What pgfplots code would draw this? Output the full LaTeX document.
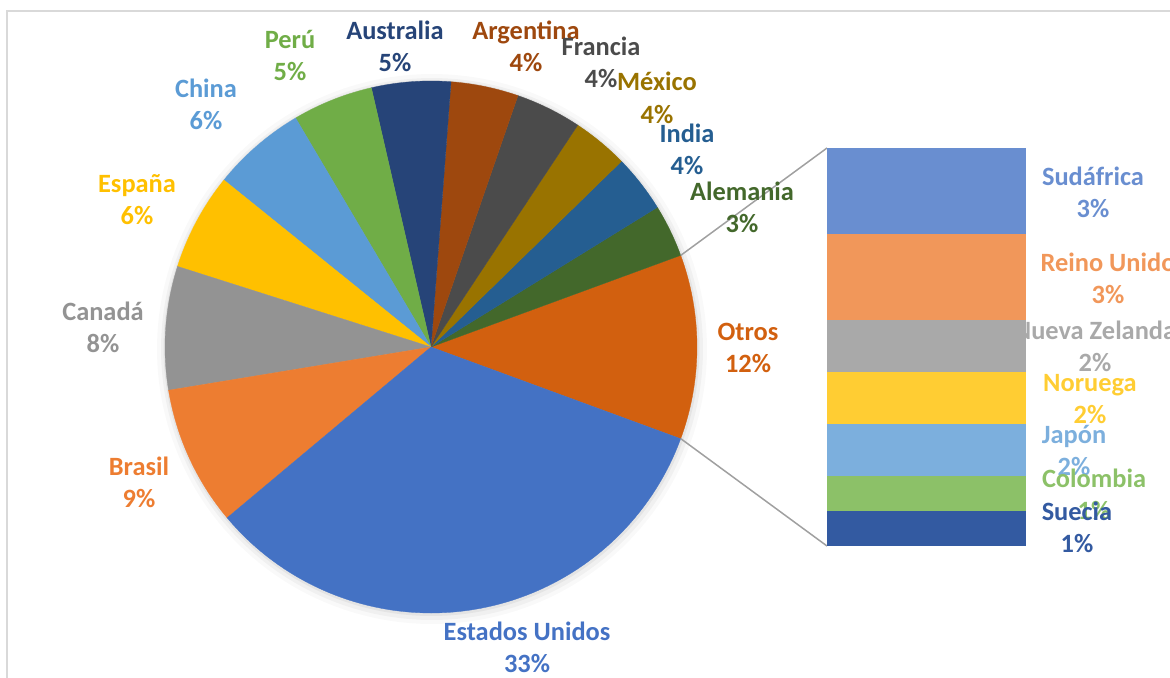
\documentclass[border=0pt]{standalone}
\usepackage{pgfplots}
\pgfplotsset{compat=1.18}
\usepackage{fontspec}
\setmainfont{Carlito}
\definecolor{cEU}{HTML}{4472C4}
\definecolor{cBra}{HTML}{ED7D31}
\definecolor{cCan}{HTML}{939393}
\definecolor{cEsp}{HTML}{FFC000}
\definecolor{cChi}{HTML}{5B9BD5}
\definecolor{cPer}{HTML}{70AD47}
\definecolor{cAus}{HTML}{264478}
\definecolor{cArg}{HTML}{9E480E}
\definecolor{cFra}{HTML}{4B4B4B}
\definecolor{cMex}{HTML}{997300}
\definecolor{cInd}{HTML}{255E91}
\definecolor{cAle}{HTML}{43682B}
\definecolor{cOtr}{HTML}{D2600F}
\definecolor{cSud}{HTML}{698ED0}
\definecolor{cRei}{HTML}{F1975A}
\definecolor{cNue}{HTML}{A9A9A9}
\definecolor{cNor}{HTML}{FFCD33}
\definecolor{cJap}{HTML}{7CAFDD}
\definecolor{cCol}{HTML}{8CC168}
\definecolor{cSue}{HTML}{335AA1}
\definecolor{cFrame}{HTML}{D9D9D9}
\definecolor{cLine}{HTML}{A0A0A0}

\newcommand\curang{-20.16}
\newcommand\slice[2]{%
  \pgfmathsetmacro\endang{\curang+#1*3.6}%
  \edef\temp{\noexpand\addplot[fill=#2,draw=#2,line width=0.3bp,domain=\curang:\endang,samples=80,variable=\noexpand\t]
    ({431+266*cos(\noexpand\t)},{347-266*sin(\noexpand\t)}) -- (axis cs:431,347) -- cycle;}%
  \temp
  \global\let\curang\endang}
\newcommand\labfont{\fontsize{26.4bp}{31bp}\selectfont\bfseries}
\newcommand\lab[5]{% x, baseline y, name, pct, color
  \node[anchor=base,text=#5,inner sep=0pt,font=\labfont] at (axis cs:#1,#2) {#3};
  \node[anchor=base,text=#5,inner sep=0pt,font=\labfont] at (axis cs:#1,#2+32) {#4};}

\begin{document}
\begin{tikzpicture}
\begin{axis}[name=pie, scale only axis, width=1170bp, height=677bp,
  xmin=0, xmax=1170, ymin=0, ymax=677, y dir=reverse, hide axis, clip=false]
% frame
\addplot[cFrame, line width=1.5bp] coordinates {(7,700) (7,11) (1200,11)};
% soft shadow round the pie
\addplot[draw=none, fill=black, fill opacity=0.025, domain=0:360, samples=180] ({432+275*cos(x)},{349-275*sin(x)});
\addplot[draw=none, fill=black, fill opacity=0.035, domain=0:360, samples=180] ({432+271*cos(x)},{349-271*sin(x)});
\addplot[draw=none, fill=black, fill opacity=0.05, domain=0:360, samples=180] ({431.5+268*cos(x)},{348-268*sin(x)});
% pie slices, counterclockwise from the lower edge of Otros
\slice{11.2}{cOtr}
\slice{3.2}{cAle}
\slice{3.5}{cInd}
\slice{3.4}{cMex}
\slice{4.0}{cFra}
\slice{4.1}{cArg}
\slice{4.8}{cAus}
\slice{4.9}{cPer}
\slice{5.7}{cChi}
\slice{5.9}{cEsp}
\slice{7.5}{cCan}
\slice{8.5}{cBra}
\slice{33.3}{cEU}
% connectors
\addplot[cLine, line width=1.5bp] coordinates {(680.7,255.4) (827,148)};
\addplot[cLine, line width=1.5bp] coordinates {(680.7,438.6) (827,546)};
% labels
\lab{527}{640}{Estados Unidos}{33\%}{cEU}
\lab{139}{475}{Brasil}{9\%}{cBra}
\lab{103}{320}{Canadá}{8\%}{cCan}
\lab{137}{192}{España}{6\%}{cEsp}
\lab{206}{97}{China}{6\%}{cChi}
\lab{290}{49}{Perú}{5\%}{cPer}
\lab{395}{40}{Australia}{5\%}{cAus}
\lab{526}{40}{Argentina}{4\%}{cArg}
\lab{601}{56}{Francia}{4\%}{cFra}
\lab{657}{91}{México}{4\%}{cMex}
\lab{687}{142}{India}{4\%}{cInd}
\lab{742}{200}{Alemania}{3\%}{cAle}
\lab{748}{340}{Otros}{12\%}{cOtr}
\lab{1093}{185}{Sudáfrica}{3\%}{cSud}
\lab{1108}{271}{Reino Unido}{3\%}{cRei}
\lab{1095}{339}{Nueva Zelanda}{2\%}{cNue}
\lab{1090}{391}{Noruega}{2\%}{cNor}
\lab{1074}{443}{Japón}{2\%}{cJap}
\lab{1094}{487}{Colombia}{1\%}{cCol}
\lab{1077}{520}{Suecia}{1\%}{cSue}
\coordinate (barSW) at (axis cs:827,546);
\end{axis}
\begin{axis}[at={(barSW)}, anchor=south west, scale only axis,
  width=199bp, height=398bp, xmin=-0.5, xmax=0.5, ymin=0, ymax=12.01,
  hide axis, ybar stacked, bar width=199bp, clip=false]
\addplot[fill=cSue, draw=none] coordinates {(0,1.05)};
\addplot[fill=cCol, draw=none] coordinates {(0,1.05)};
\addplot[fill=cJap, draw=none] coordinates {(0,1.57)};
\addplot[fill=cNor, draw=none] coordinates {(0,1.57)};
\addplot[fill=cNue, draw=none] coordinates {(0,1.57)};
\addplot[fill=cRei, draw=none] coordinates {(0,2.6)};
\addplot[fill=cSud, draw=none] coordinates {(0,2.6)};
\end{axis}
\pgfresetboundingbox
\path[use as bounding box] (pie.south west) rectangle (pie.north east);
\end{tikzpicture}
\end{document}
